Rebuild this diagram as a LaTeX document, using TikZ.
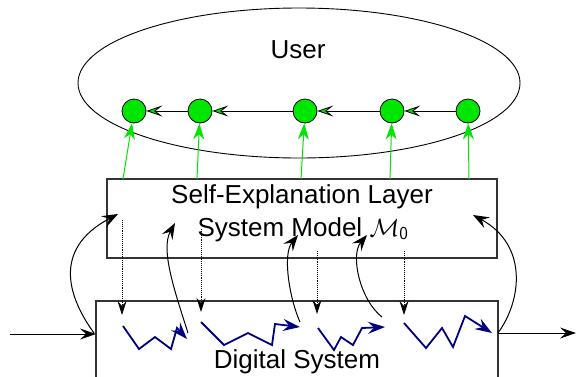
\documentclass[tikz,border=0pt]{standalone}
\usepackage{fontspec}
\setmainfont{Liberation Sans}
\usetikzlibrary{arrows.meta,shapes.geometric}
\definecolor{brightgreen}{RGB}{0,230,0}
\definecolor{zignavy}{RGB}{0,0,128}
\begin{document}
\begin{tikzpicture}[x=1pt,y=-1pt,
  lbl/.style={font=\fontsize{26}{33}\selectfont, inner sep=0pt, anchor=base},
  frame/.style={draw=black!80, line width=1.2pt, rectangle, inner sep=0pt},
  dot/.style={circle, draw=black, fill=brightgreen, minimum size=24pt, inner sep=0pt, line width=0.8pt},
  chain/.style={draw=black, line width=0.9pt, -{Stealth[length=16pt,width=11pt,inset=7pt,fill=brightgreen,line width=0.8pt]}},
  up/.style={draw=brightgreen, line width=1pt, -{Stealth[length=16pt,width=11pt,inset=5pt]}},
  zig/.style={draw=zignavy, line width=1.8pt, -{Stealth[length=17pt,width=12pt,inset=6pt]}},
  fb/.style={draw=black, line width=1pt, -{Stealth[length=16pt,width=12pt,inset=6pt]}},
  down/.style={draw=black, densely dotted, line width=0.9pt, -{Stealth[length=14pt,width=9pt,inset=5pt]}},
  flow/.style={draw=black, line width=1pt, -{Stealth[length=16pt,width=11pt,inset=6pt]}}
]
\useasboundingbox (0,0) rectangle (577,376);
\fill[white] (0,0) rectangle (577,376);

% user ellipse
\node[ellipse, draw=black, line width=0.9pt, minimum width=442pt, minimum height=150pt, inner sep=0pt] (usr) at (299,83) {};
\node[lbl] (usrtxt) at (298,58) {User};

% circles
\node[dot] (c1) at (134,111) {};
\node[dot] (c2) at (200,111) {};
\node[dot] (c3) at (305,111) {};
\node[dot] (c4) at (392,111) {};
\node[dot] (c5) at (468,111) {};
\draw[chain] (c5) -- (c4);
\draw[chain] (c4) -- (c3);
\draw[chain] (c3) -- (c2);
\draw[chain] (c2) -- (c1);

% self-explanation layer
\node[frame, minimum width=390pt, minimum height=79pt] (sel) at (302,218.5) {};
\node[lbl] (seltxt1) at (302,203) {Self-Explanation Layer};
\node[lbl] (seltxt2) at (303,236) {System Model $\mathcal{M}_{\mathsf{0}}$};

% green arrows to the circles
\coordinate (g1) at (123,179);
\coordinate (g2) at (197,179);
\coordinate (g3) at (301,179);
\coordinate (g4) at (390,179);
\coordinate (g5) at (469,179);
\draw[up] (g1) -- (c1);
\draw[up] (g2) -- (c2);
\draw[up] (g3) -- (c3);
\draw[up] (g4) -- (c4);
\draw[up] (g5) -- (c5);

% digital system
\draw[draw=black!80, line width=1.2pt] (96,400) -- (96,301) -- (498,301) -- (498,400);
\node[lbl] (digtxt) at (297,368) {Digital System};

% input / output
\coordinate (inp) at (10,334);
\coordinate (din) at (96,334);
\coordinate (dout) at (498,333);
\coordinate (outp) at (576,333);
\draw[flow] (inp) -- (din);
\draw[flow] (dout) -- (outp);

% zigzags
\draw[zig] (123,326) -- (139,349) -- (155,337) -- (171,349) -- (177,328) -- (187,339);
\draw[zig] (201,322) -- (224,345) -- (248,333) -- (272,345) -- (275,324) -- (300,327);
\draw[zig] (318,328) -- (334,350) -- (341,337) -- (353,345) -- (362,328) -- (385,327);
\draw[zig] (404,323) -- (426,348) -- (442,328) -- (453,347) -- (465,316) -- (492,333);

% dotted arrows down
\coordinate (d1a) at (122,220); \coordinate (d1b) at (122,315);
\coordinate (d2a) at (201,229); \coordinate (d2b) at (201,312);
\coordinate (d3a) at (317,251); \coordinate (d3b) at (317,314);
\coordinate (d4a) at (404,251); \coordinate (d4b) at (404,315);
\draw[down] (d1a) -- (d1b);
\draw[down] (d2a) -- (d2b);
\draw[down] (d3a) -- (d3b);
\draw[down] (d4a) -- (d4b);

% feedback curves
\coordinate (f1a) at (94,333); \coordinate (f1b) at (118,214);
\coordinate (f2a) at (188,333); \coordinate (f2b) at (175,223);
\coordinate (f3a) at (300,322); \coordinate (f3b) at (298,235);
\coordinate (f4a) at (382,317); \coordinate (f4b) at (367,235);
\coordinate (f5a) at (498,333); \coordinate (f5b) at (473,215);
\draw[fb] (f1a) .. controls (70,300) and (50,250) .. (f1b);
\draw[fb] (f2a) .. controls (176,295) and (160,250) .. (f2b);
\draw[fb] (f3a) .. controls (290,300) and (282,255) .. (f3b);
\draw[fb] (f4a) .. controls (360,300) and (350,255) .. (f4b);
\draw[fb] (f5a) .. controls (522,300) and (528,245) .. (f5b);
\end{tikzpicture}
\end{document}
